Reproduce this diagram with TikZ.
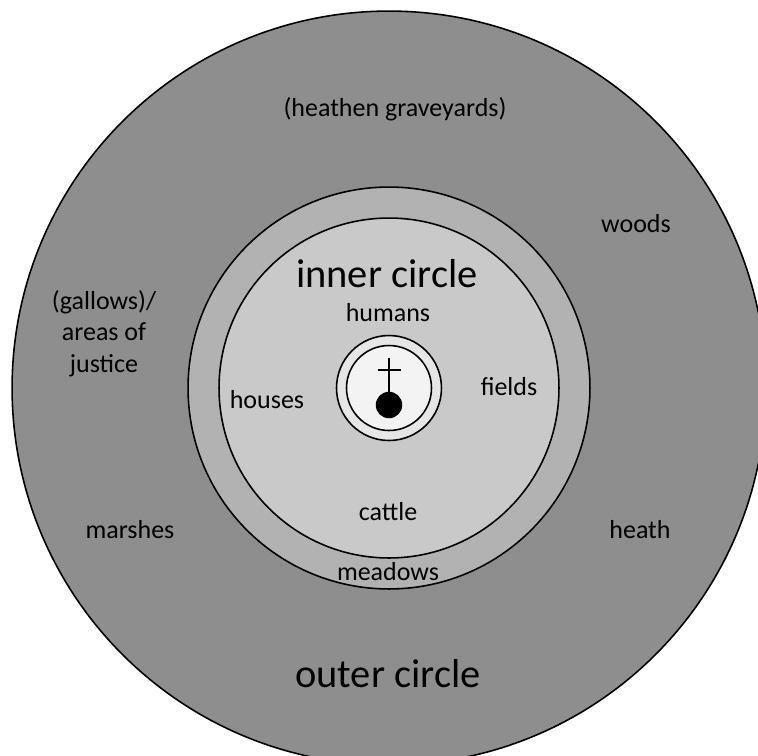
\documentclass[tikz,border=0pt]{standalone}
\usepackage{fontspec}
\setmainfont{Carlito}
\definecolor{outergray}{HTML}{8E8E8E}
\definecolor{meadowgray}{HTML}{B2B2B2}
\definecolor{innergray}{HTML}{C9C9C9}
\definecolor{ringgray}{HTML}{E6E6E6}
\definecolor{coregray}{HTML}{F3F3F3}
\usetikzlibrary{positioning}

\begin{document}
\begin{tikzpicture}[x=0.02cm,y=-0.02cm,
  zone/.style={draw=black,line width=0.9pt},
  lbl/.style={anchor=base,inner sep=0pt,align=center,
    font=\fontsize{14.8}{17.8}\selectfont},
  big/.style={anchor=base,inner sep=0pt,font=\fontsize{23}{27}\selectfont}]
  \useasboundingbox (0,0) rectangle (758,755);
  \clip (0,0) rectangle (758,755);
  \coordinate (c) at (389,388);
  % rings from the outside in
  \draw[zone,fill=outergray]  (c) circle (7.54cm);
  \draw[zone,fill=meadowgray] (c) circle (4.02cm);
  \draw[zone,fill=innergray]  (c) circle (3.40cm);
  \draw[zone,fill=ringgray]   (c) circle (1.05cm);
  \draw[zone,fill=coregray]   (c) circle (0.85cm);
  % church sign
  \coordinate (top) at (389,358);
  \coordinate (bar) at (389,370);
  \node[circle,fill=black,minimum size=0.53cm,inner sep=0pt] (dot) at (389,405) {};
  \draw[line width=0.9pt] (top) -- (dot.center);
  \draw[line width=0.9pt] ([xshift=-0.23cm]bar) -- ([xshift=0.23cm]bar);
  % outer circle
  \node[lbl] (graves)  at (395,116) {(heathen graveyards)};
  \node[lbl] (woods)   at (636,232) {woods};
  \node[lbl] (gallows) at (104,372) {(gallows)/\\areas of\\justice};
  \node[lbl] (marshes) at (130,538) {marshes};
  \node[lbl] (heath)   at (640,538) {heath};
  \node[big] (outer)   at (388,687) {outer circle};
  % inner circle
  \node[big] (inner)   at (387,287) {inner circle};
  \node[lbl] (humans)  at (388,321) {humans};
  \node[lbl] (houses)  at (267,408) {houses};
  \node[lbl] (fields)  at (509,395) {fields};
  \node[lbl] (cattle)  at (388,520) {cattle};
  \node[lbl] (meadows) at (388,580) {meadows};
\end{tikzpicture}
\end{document}
